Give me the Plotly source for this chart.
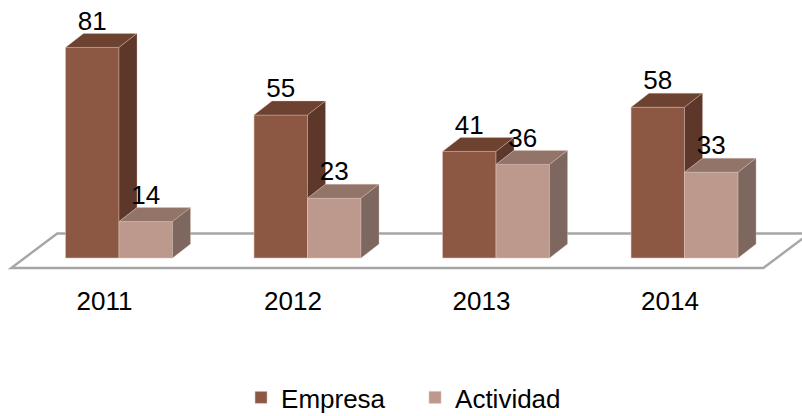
import plotly.graph_objects as go

years = ["2011", "2012", "2013", "2014"]
empresa = [81, 55, 41, 58]
actividad = [14, 23, 36, 33]

# Geometry in data units
BAR_W = 0.2838
DX = 18 / 188.5
DY = 14 / 2.6
LABEL_DROP = 1.0
X_RANGE = [-0.6313, 3.623]
Y_RANGE = [-60.77, 99.23]
FONT = "Liberation Sans, Arial, sans-serif"

EMP = dict(front="#8C5843", top="#6E4231", side="#5D3729")
ACT = dict(front="#BD988C", top="#937469", side="#7E675E")

xs = list(range(len(years)))
fig = go.Figure()

# Front faces (bars sit under scatter faces)
for name, vals, col, off in [("Empresa", empresa, EMP, -BAR_W), ("Actividad", actividad, ACT, 0)]:
    fig.add_trace(go.Bar(
        x=xs, y=vals, name=name, width=BAR_W, offset=off,
        marker=dict(color=col["front"], line=dict(color="rgba(225,195,185,0.55)", width=1)),
        hoverinfo="skip",
    ))


def face(px, py, color):
    fig.add_trace(go.Scatter(
        x=px, y=py, mode="lines", fill="toself", fillcolor=color,
        line=dict(color="rgba(225,205,195,0.45)", width=0.7),
        showlegend=False, hoverinfo="skip",
    ))


for i, (e, a) in enumerate(zip(empresa, actividad)):
    l, m, r = i - BAR_W, i, i + BAR_W
    # Empresa
    face([l, l + DX, m + DX, m, l], [e, e + DY, e + DY, e, e], EMP["top"])
    face([m, m + DX, m + DX, m, m], [e, e + DY, a + DY, a, e], EMP["side"])
    # Actividad
    face([m, m + DX, r + DX, r, m], [a, a + DY, a + DY, a, a], ACT["top"])
    face([r, r + DX, r + DX, r, r], [a, a + DY, DY, 0, a], ACT["side"])

# Data labels
for vals, off in [(empresa, -BAR_W / 2), (actividad, BAR_W / 2)]:
    fig.add_trace(go.Scatter(
        x=[i + off for i in xs], y=[v + DY - LABEL_DROP for v in vals],
        mode="text", text=[str(v) for v in vals], textposition="top center",
        textfont=dict(family=FONT, size=26, color="black"),
        showlegend=False, hoverinfo="skip", cliponaxis=False,
    ))

# Floor
fl, fr = -0.5717, 3.418
fy0, fy1 = -3.85, 9.42
fdx = 46 / 188.5
floor_path = (f"M {fl},{fy0} L {fr},{fy0} L {fr + fdx},{fy1} L {fl + fdx},{fy1} Z")

fig.update_layout(
    width=802, height=416, autosize=False,
    margin=dict(l=0, r=0, t=0, b=0, autoexpand=False),
    paper_bgcolor="white", plot_bgcolor="white",
    barmode="overlay",
    shapes=[dict(type="path", path=floor_path, layer="below",
                 line=dict(color="#A6A6A6", width=2.4), fillcolor="white")],
    xaxis=dict(range=X_RANGE, tickmode="array",
               tickvals=[i - 0.077 for i in xs], ticktext=years,
               showgrid=False, zeroline=False, showline=False, ticks="",
               tickfont=dict(family=FONT, size=26, color="black"),
               anchor="free", position=0.32),
    yaxis=dict(range=Y_RANGE, visible=False, showgrid=False, zeroline=False),
    legend=dict(orientation="h", x=0.5175, xanchor="center", y=-0.012, yanchor="bottom",
                font=dict(family=FONT, size=26, color="black"),
                entrywidth=129, entrywidthmode="pixels",
                bgcolor="rgba(0,0,0,0)", traceorder="normal"),
    showlegend=True,
)

fig.write_html("out.html", config={"displayModeBar": False},
               post_script="document.body.style.margin='0';document.body.style.overflow='hidden';")
